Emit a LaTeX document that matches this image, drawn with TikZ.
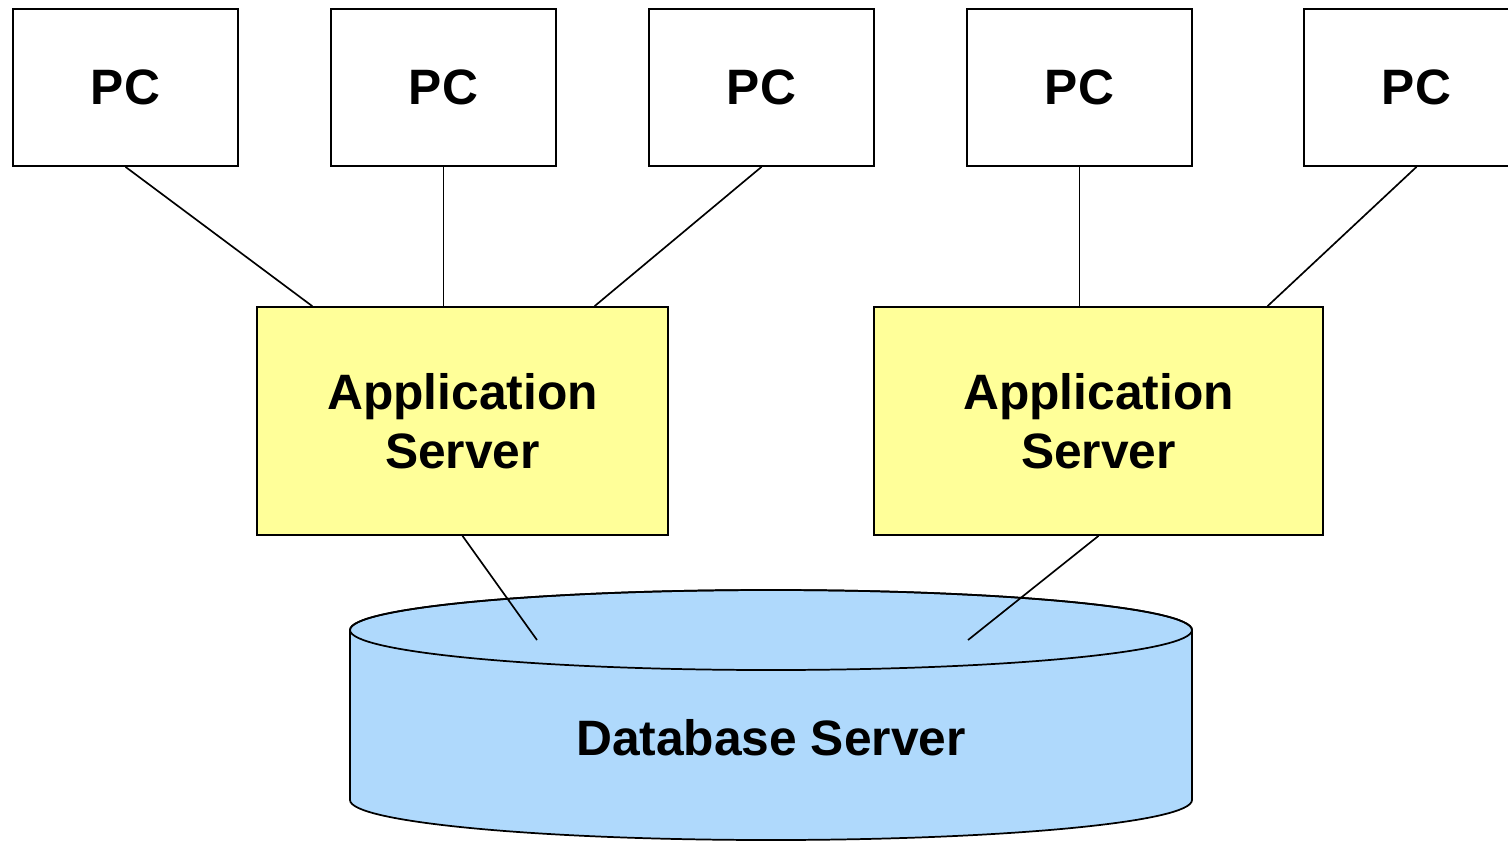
\documentclass[tikz,border=0pt]{standalone}
\usepackage{fontspec}
\setmainfont{Liberation Sans}
\usetikzlibrary{calc}
\definecolor{appyellow}{RGB}{255,255,153}
\definecolor{dbblue}{RGB}{175,217,252}
\begin{document}
\begin{tikzpicture}[x=0.75pt,y=-0.75pt,
  box/.style={draw=black,line width=1.3pt,rectangle,inner sep=0pt,font=\fontsize{37.3}{44}\selectfont\bfseries,align=center},
  pcbox/.style={box,fill=white,minimum width=168.75pt,minimum height=117.75pt},
  appbox/.style={box,fill=appyellow,minimum height=171pt},
  link/.style={draw=black,line width=1.25pt},
  dbshape/.style={draw=black,line width=1.3pt,fill=dbblue},
  dblabel/.style={inner sep=0pt,font=\fontsize{37.3}{44}\selectfont\bfseries}]
\useasboundingbox (0,0) rectangle (1508,840);
\clip (0,0) rectangle (1508,840);
\fill[white] (0,0) rectangle (1508,840);

% PCs
\node[pcbox] (pc1) at (125.5,87.5) {PC};
\node[pcbox] (pc2) at (443.5,87.5) {PC};
\node[pcbox] (pc3) at (761.5,87.5) {PC};
\node[pcbox] (pc4) at (1079.5,87.5) {PC};
\node[pcbox] (pc5) at (1416.5,87.5) {PC};

% Application servers
\node[appbox,minimum width=308.25pt] (app1) at (462.5,421) {Application\\Server};
\node[appbox,minimum width=336.75pt] (app2) at (1098.5,421) {Application\\Server};

% Database cylinder
\path[dbshape] (350,630) -- (350,800)
  arc[start angle=180,end angle=360,x radius=315.75pt,y radius=30pt]
  -- (1192,630)
  arc[start angle=0,end angle=180,x radius=315.75pt,y radius=30pt] -- cycle;
\draw[line width=1.3pt] (771,630) ellipse [x radius=315.75pt,y radius=30pt];
\node[dblabel] (db) at (771,738) {Database Server};
\coordinate (dbL) at (537,640);
\coordinate (dbR) at (968,640);

% Connectors
\draw[link] (pc1.south) -- ($(app1.north west)!0.136!(app1.north east)$);
\draw[link] (pc2.south) -- (pc2.south |- app1.north);
\draw[link] (pc3.south) -- ($(app1.north west)!0.82!(app1.north east)$);
\draw[link] (pc4.south) -- (pc4.south |- app2.north);
\draw[link] (pc5.south) -- ($(app2.north west)!0.875!(app2.north east)$);
\draw[link] (app1.south) -- (dbL);
\draw[link] (app2.south) -- (dbR);
\end{tikzpicture}
\end{document}
